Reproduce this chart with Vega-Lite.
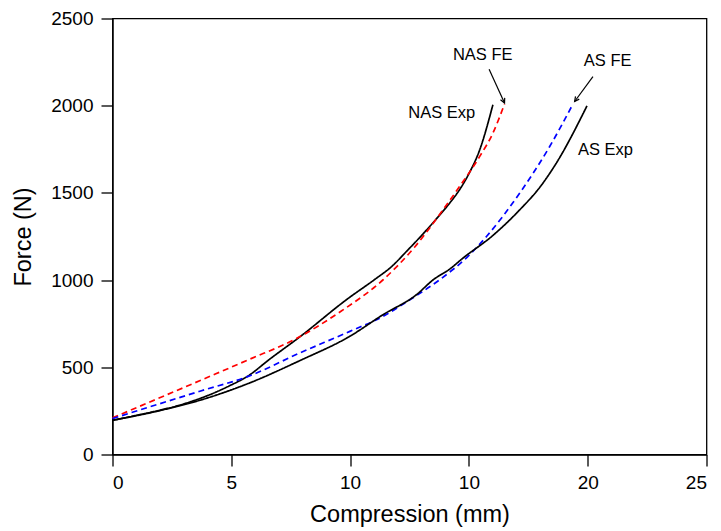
{
  "$schema": "https://vega.github.io/schema/vega-lite/v6.json",
  "width": 594,
  "height": 436,
  "autosize": {"type": "none"},
  "padding": {"left": 112.5, "top": 18.5, "right": 14, "bottom": 76},
  "background": "white",
  "config": {
    "font": "Liberation Sans",
    "view": {"stroke": "black", "strokeWidth": 1.3},
    "axis": {
      "grid": false,
      "domainColor": "black",
      "domainWidth": 1.3,
      "tickColor": "black",
      "tickWidth": 1.3,
      "tickSize": 11.5,
      "labelFont": "Liberation Sans",
      "labelFontSize": 19,
      "labelColor": "black",
      "titleFont": "Liberation Sans",
      "titleFontSize": 23.5,
      "titleFontWeight": "normal",
      "titleColor": "black"
    }
  },
  "datasets": {
    "curves": [
      {"series": "NAS Exp", "x": 0, "y": 196},
      {"series": "NAS Exp", "x": 1, "y": 224},
      {"series": "NAS Exp", "x": 2, "y": 254},
      {"series": "NAS Exp", "x": 3, "y": 290},
      {"series": "NAS Exp", "x": 3.68, "y": 321},
      {"series": "NAS Exp", "x": 4.94, "y": 395},
      {"series": "NAS Exp", "x": 5.7, "y": 450},
      {"series": "NAS Exp", "x": 6.62, "y": 547},
      {"series": "NAS Exp", "x": 7.88, "y": 674},
      {"series": "NAS Exp", "x": 9.85, "y": 888},
      {"series": "NAS Exp", "x": 11.1, "y": 1010},
      {"series": "NAS Exp", "x": 11.7, "y": 1072},
      {"series": "NAS Exp", "x": 12.44, "y": 1174},
      {"series": "NAS Exp", "x": 13.07, "y": 1265},
      {"series": "NAS Exp", "x": 13.7, "y": 1362},
      {"series": "NAS Exp", "x": 14.2, "y": 1443},
      {"series": "NAS Exp", "x": 14.6, "y": 1517},
      {"series": "NAS Exp", "x": 15.0, "y": 1610},
      {"series": "NAS Exp", "x": 15.45, "y": 1745},
      {"series": "NAS Exp", "x": 16.01, "y": 2005},
      {"series": "NAS FE", "x": 0, "y": 210},
      {"series": "NAS FE", "x": 3.96, "y": 440},
      {"series": "NAS FE", "x": 5.75, "y": 545},
      {"series": "NAS FE", "x": 7.74, "y": 665},
      {"series": "NAS FE", "x": 9.6, "y": 820},
      {"series": "NAS FE", "x": 11.39, "y": 1002},
      {"series": "NAS FE", "x": 12.72, "y": 1190},
      {"series": "NAS FE", "x": 13.91, "y": 1403},
      {"series": "NAS FE", "x": 14.61, "y": 1537},
      {"series": "NAS FE", "x": 15.45, "y": 1708},
      {"series": "NAS FE", "x": 16.0, "y": 1840},
      {"series": "NAS FE", "x": 16.5, "y": 2010},
      {"series": "AS FE", "x": 0, "y": 206},
      {"series": "AS FE", "x": 3.68, "y": 363},
      {"series": "AS FE", "x": 5.71, "y": 448},
      {"series": "AS FE", "x": 7.88, "y": 582},
      {"series": "AS FE", "x": 9.99, "y": 706},
      {"series": "AS FE", "x": 11.39, "y": 792},
      {"series": "AS FE", "x": 12.5, "y": 886},
      {"series": "AS FE", "x": 13.77, "y": 1002},
      {"series": "AS FE", "x": 14.96, "y": 1136},
      {"series": "AS FE", "x": 15.74, "y": 1250},
      {"series": "AS FE", "x": 17.14, "y": 1499},
      {"series": "AS FE", "x": 18.4, "y": 1766},
      {"series": "AS FE", "x": 19.38, "y": 2010},
      {"series": "AS Exp", "x": 0, "y": 196},
      {"series": "AS Exp", "x": 2, "y": 252},
      {"series": "AS Exp", "x": 3.68, "y": 311},
      {"series": "AS Exp", "x": 5.71, "y": 407},
      {"series": "AS Exp", "x": 7.88, "y": 538},
      {"series": "AS Exp", "x": 9.99, "y": 678},
      {"series": "AS Exp", "x": 11.39, "y": 802},
      {"series": "AS Exp", "x": 12.79, "y": 916},
      {"series": "AS Exp", "x": 13.5, "y": 1002},
      {"series": "AS Exp", "x": 14.19, "y": 1063},
      {"series": "AS Exp", "x": 14.75, "y": 1126},
      {"series": "AS Exp", "x": 16.0, "y": 1255},
      {"series": "AS Exp", "x": 17.14, "y": 1403},
      {"series": "AS Exp", "x": 18.0, "y": 1535},
      {"series": "AS Exp", "x": 18.68, "y": 1671},
      {"series": "AS Exp", "x": 19.97, "y": 1999}
    ],
    "arrows": [
      {"name": "NAS FE", "x": 15.85, "y": 2209, "x2": 16.5, "y2": 2015, "angle": -24.8},
      {"name": "AS FE", "x": 20.22, "y": 2167, "x2": 19.45, "y2": 2024, "angle": 36.2}
    ],
    "labels": [
      {"text": "NAS FE", "x": 15.58, "y": 2291},
      {"text": "NAS Exp", "x": 13.86, "y": 1960},
      {"text": "AS FE", "x": 20.84, "y": 2257},
      {"text": "AS Exp", "x": 20.75, "y": 1745}
    ]
  },
  "layer": [
    {
      "data": {"name": "curves"},
      "mark": {"type": "line", "strokeWidth": 1.7, "interpolate": "monotone"},
      "encoding": {
        "x": {
          "field": "x", "type": "quantitative",
          "scale": {"domain": [0, 25], "nice": false, "zero": false},
          "axis": {"title": "Compression (mm)", "values": [0, 5, 10, 15, 20, 25], "format": "d", "labelExpr": "datum.value == 15 ? '10' : datum.label", "labelPadding": 7, "titlePadding": 10}
        },
        "y": {
          "field": "y", "type": "quantitative",
          "scale": {"domain": [0, 2500], "nice": false},
          "axis": {"title": "Force (N)", "values": [0, 500, 1000, 1500, 2000, 2500], "format": "d", "labelPadding": 8, "titlePadding": 15}
        },
        "color": {
          "field": "series", "type": "nominal",
          "scale": {"domain": ["NAS Exp", "AS Exp", "NAS FE", "AS FE"], "range": ["#000000", "#000000", "#ff0000", "#0000ff"]},
          "legend": null
        },
        "strokeDash": {
          "field": "series", "type": "nominal",
          "scale": {"domain": ["NAS Exp", "AS Exp", "NAS FE", "AS FE"], "range": [[1, 0], [1, 0], [6, 4], [6, 4]]},
          "legend": null
        },
        "detail": {"field": "series"}
      }
    },
    {
      "data": {"name": "arrows"},
      "mark": {"type": "rule", "color": "black", "strokeWidth": 1.2},
      "encoding": {
        "x": {"field": "x", "type": "quantitative"},
        "y": {"field": "y", "type": "quantitative"},
        "x2": {"field": "x2"},
        "y2": {"field": "y2"}
      }
    },
    {
      "data": {"name": "arrows"},
      "mark": {"type": "point", "shape": "M -0.6 -1.2 L 0 0 L 0.6 -1.2", "filled": false, "color": "black", "strokeWidth": 1.2, "size": 60, "opacity": 1},
      "encoding": {
        "x": {"field": "x2", "type": "quantitative"},
        "y": {"field": "y2", "type": "quantitative"},
        "angle": {"field": "angle", "type": "quantitative", "scale": null}
      }
    },
    {
      "data": {"name": "labels"},
      "mark": {"type": "text", "font": "Liberation Sans", "fontSize": 16.5, "color": "black", "align": "center", "baseline": "middle"},
      "encoding": {
        "x": {"field": "x", "type": "quantitative"},
        "y": {"field": "y", "type": "quantitative"},
        "text": {"field": "text"}
      }
    }
  ]
}
